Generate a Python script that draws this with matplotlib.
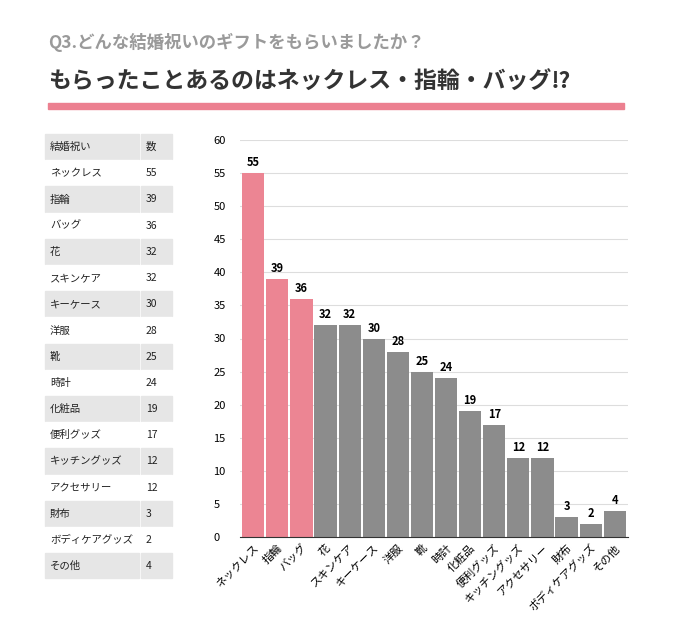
import matplotlib.pyplot as plt
from matplotlib.patches import Rectangle

plt.rcParams['font.family'] = ['Noto Sans CJK JP', 'DejaVu Sans']

items = ['ネックレス', '指輪', 'バッグ', '花', 'スキンケア', 'キーケース', '洋服', '靴', '時計',
         '化粧品', '便利グッズ', 'キッチングッズ', 'アクセサリー', '財布', 'ボディケアグッズ', 'その他']
counts = [55, 39, 36, 32, 32, 30, 28, 25, 24, 19, 17, 12, 12, 3, 2, 4]
table_header = ['結婚祝い', '数']

W, H = 674, 637
fig = plt.figure(figsize=(W / 100, H / 100), dpi=100)

fig.text(48 / W, 1 - 42 / H, 'Q3.どんな結婚祝いのギフトをもらいましたか？', fontsize=12.5,
         color='#9a9a9a', fontweight='bold', va='center')
fig.text(48 / W, 1 - 82 / H, 'もらったことあるのはネックレス・指輪・バッグ⁉', fontsize=16.5,
         color='#333333', fontweight='bold', va='center')
fig.patches.append(Rectangle((48 / W, 1 - 109 / H), 576 / W, 6 / H, color='#ec8090',
                             transform=fig.transFigure))

# table
row_h = 26.2
top = 134
rows = [table_header] + [[n, str(c)] for n, c in zip(items, counts)]
for i, (name, val) in enumerate(rows):
    y0 = top + i * row_h
    bg = '#e6e6e6' if i % 2 == 0 else 'white'
    fig.patches.append(Rectangle((45 / W, 1 - (y0 + row_h - 1) / H), 94 / W, (row_h - 1) / H,
                                 color=bg, transform=fig.transFigure))
    fig.patches.append(Rectangle((141 / W, 1 - (y0 + row_h - 1) / H), 31 / W, (row_h - 1) / H,
                                 color=bg, transform=fig.transFigure))
    yc = 1 - (y0 + row_h / 2) / H
    fig.text(50 / W, yc, name, fontsize=7.5, va='center', color='#222222')
    fig.text(146 / W, yc, val, fontsize=7.5, va='center', color='#222222')

ax = fig.add_axes([240 / W, 1 - 537 / H, 388 / W, 397 / H])
colors = ['#ec8593'] * 3 + ['#8c8c8c'] * (len(items) - 3)
x = range(len(items))
bars = ax.bar(x, counts, width=0.92, color=colors)
for b, c in zip(bars, counts):
    ax.text(b.get_x() + b.get_width() / 2, c + 0.6, str(c), ha='center', va='bottom',
            fontsize=8, fontweight='bold')
ax.set_ylim(0, 60)
ax.set_xlim(-0.55, len(items) - 0.45)
ax.set_yticks(range(0, 61, 5))
ax.yaxis.grid(True, color='#dddddd', linewidth=0.8)
ax.set_axisbelow(True)
for s in ['top', 'right', 'left']:
    ax.spines[s].set_visible(False)
ax.spines['bottom'].set_color('#333333')
ax.tick_params(axis='y', length=0, labelsize=8, pad=8)
for lab in ax.get_yticklabels():
    lab.set_horizontalalignment('left')
    lab.set_x(-0.04)
ax.set_xticks(list(x))
ax.set_xticklabels(items, rotation=45, ha='right', rotation_mode='anchor', fontsize=8)
ax.tick_params(axis='x', length=0, pad=4)

fig.savefig('out.png', dpi=100)
